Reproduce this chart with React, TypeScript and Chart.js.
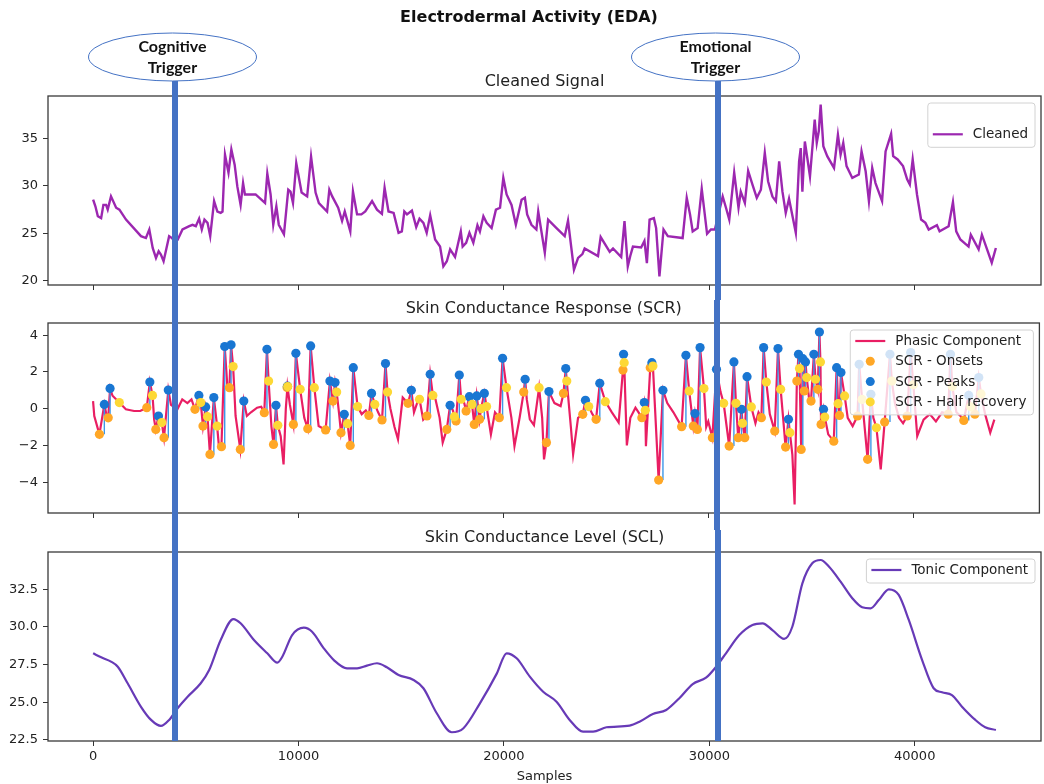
import { useEffect, useRef } from "react";
import { Chart, registerables } from "chart.js";

Chart.register(...registerables);

const FONT = '"DejaVu Sans", sans-serif';
const NOTE_FONT = 'Lato, "Open Sans", sans-serif';

// ---------- axes / text ----------
const xTicks = [0, 10000, 20000, 30000, 40000];
const xRange = [-2197, 46147];
const cleanedTicks = [20, 25, 30, 35];
const cleanedRange = [19.54, 39.5];
const scrTicks = [-4, -2, 0, 2, 4];
const scrRange = [-5.68, 4.66];
const sclTicks = [22.5, 25, 27.5, 30, 32.5];
const sclRange = [22.43, 34.97];

const suptitle = "Electrodermal Activity (EDA)";
const panelTitles = ["Cleaned Signal", "Skin Conductance Response (SCR)", "Skin Conductance Level (SCL)"];
const xLabel = "Samples";
const triggerX = [3980, 30440];
const triggerText = [["Cognitive", "Trigger"], ["Emotional", "Trigger"]];

// ---------- data ----------
const cleaned: number[][] = [
  [0, 28.56], [110, 27.85], [230, 26.8], [390, 26.6], [500, 28.0], [630, 28.0], [710, 27.5], [870, 28.9],
  [1120, 27.7], [1280, 27.5], [1600, 26.45], [2330, 24.7], [2570, 24.5], [2735, 25.4], [2900, 23.45],
  [3060, 22.4], [3190, 23.1], [3300, 22.75], [3430, 22.05], [3700, 24.7], [3840, 24.5], [3980, 24.1],
  [4110, 24.3], [4350, 25.4], [4680, 25.75], [4840, 25.9], [5000, 25.75], [5160, 26.55], [5290, 25.4],
  [5420, 26.45], [5570, 26.1], [5700, 24.7], [5890, 28.4], [6050, 27.3], [6210, 27.15], [6300, 27.3],
  [6420, 33.3], [6590, 31.4], [6730, 33.85], [6890, 32.25], [7020, 29.95], [7180, 28.0], [7300, 30.3],
  [7390, 29.1], [7910, 29.1], [8370, 28.2], [8480, 31.3], [8640, 29.1], [8770, 25.9], [8920, 27.85],
  [9040, 25.9], [9290, 24.9], [9500, 29.6], [9610, 29.4], [9730, 28.2], [9890, 32.4], [10150, 29.3],
  [10420, 28.9], [10610, 33.1], [10830, 29.3], [10990, 28.2], [11390, 27.3], [11500, 29.6], [11640, 28.9],
  [11930, 27.7], [12120, 26.3], [12250, 27.3], [12520, 25.2], [12650, 29.4], [12850, 27.0], [13060, 27.0],
  [13250, 27.3], [13580, 28.4], [13820, 27.5], [14060, 27.05], [14190, 29.8], [14380, 27.3], [14630, 27.15],
  [14870, 25.05], [15030, 25.2], [15150, 27.3], [15280, 27.0], [15520, 27.4], [15730, 25.65], [15890, 26.55],
  [16080, 26.1], [16240, 25.05], [16410, 26.9], [16650, 24.35], [16890, 23.6], [17050, 21.5], [17220, 22.05],
  [17380, 23.3], [17620, 22.5], [17900, 25.2], [17990, 23.6], [18160, 24.0], [18320, 25.05], [18510, 24.0],
  [18710, 25.85], [18830, 25.2], [19000, 26.8], [19160, 26.1], [19400, 25.55], [19610, 27.5], [19810, 27.7],
  [19970, 30.85], [20130, 29.1], [20370, 28.0], [20580, 25.9], [20860, 28.55], [21020, 28.75], [21130, 27.0],
  [21340, 25.9], [21580, 25.4], [21670, 27.3], [21990, 22.95], [22150, 26.45], [22560, 25.55], [22960, 24.7],
  [23120, 26.35], [23410, 21.15], [23610, 22.4], [23820, 22.8], [23930, 23.4], [24580, 22.6], [24710, 24.6],
  [25150, 23.05], [25310, 23.4], [25710, 22.5], [25870, 26.3], [26030, 21.5], [26150, 22.6], [26280, 23.6],
  [26680, 23.5], [26840, 24.2], [26960, 21.85], [27090, 26.45], [27300, 26.6], [27410, 25.55], [27570, 20.45],
  [27770, 25.4], [27980, 24.7], [28700, 24.5], [28900, 28.75], [29060, 27.0], [29190, 25.2], [29430, 25.55],
  [29630, 29.7], [29890, 24.95], [30080, 25.4], [30270, 25.4], [30650, 28.9], [30810, 27.7], [30970, 26.45],
  [31210, 31.4], [31420, 27.7], [31530, 29.4], [31730, 28.2], [31890, 31.6], [32100, 30.15], [32310, 28.75],
  [32510, 29.6], [32700, 33.5], [32860, 30.5], [33070, 28.9], [33240, 28.4], [33400, 32.6], [33560, 29.4],
  [33720, 27.15], [33880, 28.65], [34210, 25.05], [34370, 32.6], [34450, 34.0], [34530, 29.4], [34650, 34.7],
  [34770, 32.95], [34900, 31.0], [35130, 37.0], [35230, 34.55], [35330, 35.8], [35420, 38.6], [35550, 34.2],
  [35740, 33.15], [36070, 31.9], [36260, 35.4], [36390, 33.3], [36520, 34.55], [36680, 32.1], [36960, 30.85],
  [37280, 31.2], [37410, 33.65], [37610, 31.55], [37770, 28.4], [37930, 31.9], [38090, 30.3], [38410, 28.4],
  [38580, 33.65], [38850, 35.5], [38950, 33.15], [39170, 32.8], [39430, 32.1], [39630, 30.7], [39760, 30.15],
  [39900, 32.8], [40110, 29.1], [40310, 26.45], [40520, 26.1], [40680, 25.4], [41080, 25.85], [41210, 25.2],
  [41650, 25.75], [41860, 28.3], [42020, 25.2], [42220, 24.35], [42620, 23.6], [42730, 24.85], [43110, 23.3],
  [43270, 24.85], [43750, 21.9], [43950, 23.45],
];

const phasic: number[][] = [
  [0, 0.41], [60, -0.4], [310, -1.4], [550, 0.23], [650, -0.3], [740, -0.5], [830, 1.1], [950, 0.7],
  [1280, 0.33], [1600, -0.04], [2000, -0.13], [2300, -0.13], [2620, 0.05], [2770, 1.45], [2900, 0.72],
  [2980, -0.6], [3060, -1.13], [3190, -0.4], [3350, -0.76], [3460, -1.58], [3670, 1.01], [3800, 0.2],
  [4110, -0.04], [4350, 0.5], [4600, 0.3], [4800, 0.5], [4970, -0.04], [5160, 0.72], [5250, 0.33],
  [5360, -0.95], [5490, 0.09], [5580, -0.44], [5700, -2.49], [5890, 0.6], [6050, -0.95], [6130, -1.95],
  [6260, -2.07], [6420, 3.38], [6550, 1.2], [6650, 1.14], [6730, 3.47], [6830, 2.29], [6950, -0.4],
  [7180, -2.22], [7350, 0.41], [7500, -0.4], [7700, -0.2], [8000, 0.05], [8200, 0.1], [8350, -0.22],
  [8480, 3.23], [8560, 1.5], [8700, -1.0], [8800, -1.95], [8920, 0.18], [9010, -0.91], [9150, -1.5],
  [9290, -3.04], [9400, 0.0], [9480, 1.2], [9600, 0.2], [9770, -0.86], [9890, 3.01], [10100, 1.05],
  [10300, -0.5], [10470, -1.09], [10610, 3.41], [10790, 1.14], [11000, -0.95], [11340, -1.16], [11550, 1.5],
  [11700, 0.41], [11800, 1.42], [11880, 0.9], [12000, -0.3], [12090, -1.31], [12250, -0.31], [12410, -0.82],
  [12540, -2.0], [12690, 2.23], [12900, 0.11], [13100, -0.3], [13300, -0.1], [13450, -0.37], [13580, 0.83],
  [13740, 0.23], [13900, -0.2], [14090, -0.62], [14260, 2.45], [14360, 0.9], [14500, 0.0], [14700, -1.0],
  [14870, -1.67], [15100, 0.6], [15360, 0.29], [15520, 1.0], [15650, -0.2], [15800, 0.3], [15920, 0.51],
  [16100, -0.6], [16280, -0.4], [16440, 1.87], [16570, 0.72], [16700, 0.5], [16900, -0.5], [17050, -1.85],
  [17250, -1.13], [17410, 0.18], [17550, -0.1], [17620, -0.44], [17700, -0.67], [17860, 1.83], [17950, 0.51],
  [18100, 0.3], [18190, -0.13], [18350, 0.65], [18480, 0.23], [18590, -0.86], [18710, 0.69], [18850, -0.58],
  [18920, 0.0], [19080, 0.83], [19190, 0.11], [19400, -1.4], [19600, -0.2], [19810, -0.49], [19970, 2.74],
  [20160, 1.14], [20400, -0.5], [20550, -2.04], [20800, -0.5], [21000, 0.9], [21070, 1.6], [21150, 0.5],
  [21300, -0.58], [21500, -0.9], [21750, 1.14], [21900, -0.5], [21990, -2.76], [22110, -1.85], [22230, 0.93],
  [22500, 0.3], [22800, 0.14], [22940, 0.83], [23050, 2.18], [23100, 1.5], [23300, -1.0], [23410, -2.49],
  [23650, -0.5], [23880, -0.31], [24010, 0.45], [24170, 0.11], [24350, -0.3], [24530, -0.58], [24710, 1.38],
  [24980, 0.38], [25300, -0.2], [25630, -0.76], [25840, 2.1], [25870, 2.96], [25900, 2.5], [26030, -2.0],
  [26200, -0.5], [26450, 0.05], [26600, -0.2], [26760, -0.49], [26880, 0.33], [26930, -0.09], [26960, -2.04],
  [27170, 2.23], [27250, 2.5], [27300, 2.32], [27580, -3.89], [27790, 1.0], [28000, 0.3], [28300, -0.2],
  [28700, -0.98], [28910, 2.9], [29070, 0.96], [29270, -0.95], [29350, -0.27], [29470, -1.13], [29600, 3.32],
  [29790, 1.09], [29900, -1.0], [30000, -0.7], [30200, -1.58], [30400, 2.14], [30600, 0.9], [30750, 0.29],
  [30900, -1.0], [31020, -2.04], [31250, 2.54], [31350, 0.29], [31460, -1.58], [31620, -0.04], [31670, -0.8],
  [31780, -1.58], [31890, 1.74], [32100, 0.09], [32300, -0.8], [32450, -0.2], [32590, -0.49], [32700, 3.32],
  [32830, 1.45], [33000, -0.3], [33240, -1.22], [33400, 3.27], [33530, 1.05], [33650, -0.5], [33770, -2.09],
  [33910, -0.58], [33980, -1.31], [34100, -2.5], [34210, -5.22], [34320, 1.5], [34400, 2.96], [34450, 2.18],
  [34530, -2.22], [34610, 2.72], [34680, 0.96], [34740, 2.54], [34800, 1.69], [34930, 0.41], [35010, 0.41],
  [35150, 2.96], [35230, 1.6], [35340, 1.05], [35420, 4.17], [35470, 2.54], [35500, -0.86], [35620, -0.04],
  [35680, -0.46], [35850, -1.4], [36120, -1.77], [36260, 2.23], [36330, 0.27], [36400, -0.37], [36470, 1.96],
  [36650, 0.69], [36800, -0.5], [37040, -0.95], [37280, -0.4], [37360, 2.41], [37500, 0.5], [37770, -2.76],
  [37930, 0.78], [38050, -0.5], [38200, -1.04], [38410, -3.31], [38600, -0.73], [38860, 2.96], [38950, 1.5],
  [39100, 0.3], [39300, -0.5], [39500, -0.8], [39700, -0.4], [39870, 3.05], [40000, 1.3], [40190, -1.49],
  [40500, -0.6], [40800, -0.3], [41100, -0.7], [41400, -0.2], [41700, -0.3], [41810, 2.96], [41900, 1.2],
  [42100, -0.2], [42300, -0.4], [42460, -0.64], [42700, 0.72], [42800, 0.1], [43000, -0.3], [43190, 1.69],
  [43300, 0.8], [43500, -0.3], [43750, -1.31], [43950, -0.6],
];

const scrOnsets: number[][] = [
  [310, -1.4], [740, -0.5], [2620, 0.05], [3060, -1.13], [3460, -1.58], [4970, -0.04], [5360, -0.95],
  [5700, -2.49], [6260, -2.07], [6650, 1.14], [7180, -2.22], [8350, -0.22], [8800, -1.95], [9460, 1.15],
  [9770, -0.86], [10470, -1.09], [11340, -1.16], [11700, 0.41], [12090, -1.31], [12540, -2.0], [13450, -0.37],
  [14090, -0.62], [15360, 0.29], [16280, -0.4], [17250, -1.13], [17700, -0.67], [18190, -0.13], [18590, -0.86],
  [18850, -0.58], [19810, -0.49], [21000, 0.9], [22110, -1.85], [22940, 0.83], [23880, -0.31], [24530, -0.58],
  [25840, 2.1], [26760, -0.49], [27170, 2.23], [27580, -3.89], [28700, -0.98], [29270, -0.95], [29470, -1.13],
  [30200, -1.58], [31020, -2.04], [31460, -1.58], [31780, -1.58], [32590, -0.49], [33240, -1.22], [33770, -2.09],
  [34320, 1.5], [34530, -2.22], [34680, 0.96], [35010, 0.41], [35340, 1.05], [35500, -0.86], [36120, -1.77],
  [36400, -0.37], [37280, -0.4], [37770, -2.76], [38600, -0.73], [39700, -0.4], [41700, -0.3], [42460, -0.64],
  [43000, -0.3],
];

const scrPeaks: number[][] = [
  [550, 0.23], [830, 1.1], [2770, 1.45], [3190, -0.4], [3670, 1.01], [5160, 0.72], [5490, 0.09],
  [5890, 0.6], [6420, 3.38], [6730, 3.47], [7350, 0.41], [8480, 3.23], [8920, 0.18], [9480, 1.22],
  [9890, 3.01], [10610, 3.41], [11550, 1.5], [11800, 1.42], [12250, -0.31], [12690, 2.23], [13580, 0.83],
  [14260, 2.45], [15520, 1.0], [16440, 1.87], [17410, 0.18], [17860, 1.83], [18350, 0.65], [18710, 0.69],
  [19080, 0.83], [19970, 2.74], [21070, 1.6], [22230, 0.93], [23050, 2.18], [24010, 0.45], [24710, 1.38],
  [25870, 2.96], [26880, 0.33], [27250, 2.5], [27790, 1.0], [28910, 2.9], [29350, -0.27], [29600, 3.32],
  [30400, 2.14], [31250, 2.54], [31620, -0.04], [31890, 1.74], [32700, 3.32], [33400, 3.27], [33910, -0.58],
  [34400, 2.96], [34610, 2.72], [34740, 2.54], [35150, 2.96], [35420, 4.17], [35620, -0.04], [36260, 2.23],
  [36470, 1.96], [37360, 2.41], [37930, 0.78], [38860, 2.96], [39870, 3.05], [41810, 2.96], [42700, 0.72],
  [43190, 1.69],
];

const scrHalfRecovery: number[][] = [
  [1280, 0.33], [2900, 0.72], [3350, -0.76], [5250, 0.33], [5580, -0.44], [6050, -0.95], [6830, 2.29],
  [8560, 1.5], [9010, -0.91], [9490, 1.2], [10100, 1.05], [10790, 1.14], [11880, 0.9], [12410, -0.82],
  [12900, 0.11], [13740, 0.23], [14360, 0.9], [15920, 0.51], [16570, 0.72], [17620, -0.44], [17950, 0.51],
  [18480, 0.23], [18920, 0.0], [19190, 0.11], [20160, 1.14], [21750, 1.14], [23100, 1.5], [24170, 0.11],
  [24980, 0.38], [25900, 2.5], [26930, -0.09], [27300, 2.32], [29070, 0.96], [29790, 1.09], [30750, 0.29],
  [31350, 0.29], [31670, -0.8], [32100, 0.09], [32830, 1.45], [33530, 1.05], [33980, -1.31], [34450, 2.18],
  [34800, 1.69], [35230, 1.6], [35470, 2.54], [35680, -0.46], [36330, 0.27], [36650, 0.69], [37500, 0.5],
  [38200, -1.04], [38950, 1.5], [40000, 1.3], [41900, 1.2], [42800, 0.1], [43300, 0.8],
];

const tonic: number[][] = [
  [0, 28.25], [390, 27.98], [870, 27.7], [1200, 27.36], [1680, 26.26], [2330, 24.7], [2820, 23.83],
  [3300, 23.43], [3700, 23.83], [4110, 24.6], [4600, 25.37], [5240, 26.26], [5650, 27.14], [6210, 29.13],
  [6830, 30.52], [7180, 30.24], [7830, 29.13], [8480, 28.25], [8970, 27.63], [9210, 28.02], [9690, 29.46],
  [10260, 29.95], [10660, 29.68], [11230, 28.58], [11720, 27.8], [12360, 27.25], [12850, 27.25], [13330, 27.43],
  [13820, 27.59], [14300, 27.32], [14870, 26.81], [15600, 26.48], [16080, 25.93], [16730, 24.27], [17460, 23.01],
  [18030, 23.28], [18830, 24.93], [19650, 26.9], [20130, 28.25], [20620, 27.92], [21260, 26.7], [21910, 25.7],
  [22560, 25.04], [23200, 23.83], [23850, 23.05], [24340, 23.05], [24990, 23.34], [26120, 23.45], [26600, 23.71],
  [27250, 24.22], [27900, 24.49], [28540, 25.27], [29190, 26.21], [29840, 26.63], [30330, 27.36], [30810, 28.25],
  [31460, 29.46], [32100, 30.13], [32590, 30.24], [33070, 29.79], [33640, 29.2], [34040, 30.01], [34530, 32.89],
  [35010, 34.22], [35420, 34.44], [35830, 33.99], [36390, 33.0], [36960, 31.9], [37440, 31.3], [37850, 31.23],
  [38250, 31.78], [38740, 32.49], [39220, 32.12], [39710, 30.46], [40360, 27.8], [40920, 25.93], [41330, 25.66],
  [41810, 25.48], [42300, 24.71], [42950, 23.83], [43430, 23.34], [43950, 23.16],
];

// ---------- helpers ----------
const pts = (arr: number[][]) => arr.map(([x, y]) => ({ x, y }));
type Entry = { label: string; kind: "line" | "dot"; color: string } | null;

const framePlugin = {
  id: "frame",
  afterDatasetsDraw(chart: any) {
    const { ctx, chartArea: a } = chart;
    ctx.save();
    ctx.strokeStyle = "#3a3a3a";
    ctx.lineWidth = 1.3;
    ctx.strokeRect(a.left, a.top, a.right - a.left, a.bottom - a.top);
    ctx.restore();
  },
};

function legendPlugin(entries: Entry[]) {
  return {
    id: "mplLegend",
    afterDatasetsDraw(chart: any) {
      const { ctx, chartArea: a } = chart;
      ctx.save();
      ctx.font = `13.5px ${FONT}`;
      const tw = Math.max(...entries.map((e) => (e ? ctx.measureText(e.label).width : 0)));
      const rowH = 20.3;
      const w = 5 + 30 + 10 + tw + 7;
      const h = 11 + rowH * (entries.length - 1) + 13;
      const right = a.right - 6;
      const left = right - w;
      const top = a.top + 7;
      ctx.beginPath();
      ctx.roundRect(left, top, w, h, 3);
      ctx.fillStyle = "rgba(255,255,255,0.8)";
      ctx.fill();
      ctx.strokeStyle = "#d2d2d2";
      ctx.lineWidth = 1;
      ctx.stroke();
      entries.forEach((e, i) => {
        if (!e) return;
        const cy = top + 11 + i * rowH;
        const lx = left + 5;
        if (e.kind === "line") {
          ctx.strokeStyle = e.color;
          ctx.lineWidth = 2.2;
          ctx.beginPath();
          ctx.moveTo(lx, cy);
          ctx.lineTo(lx + 30, cy);
          ctx.stroke();
        } else {
          ctx.fillStyle = e.color;
          ctx.beginPath();
          ctx.arc(lx + 15, cy, 4.5, 0, Math.PI * 2);
          ctx.fill();
        }
        ctx.fillStyle = "#222";
        ctx.textAlign = "left";
        ctx.textBaseline = "middle";
        ctx.fillText(e.label, lx + 40, cy + 0.5);
      });
      ctx.restore();
    },
  };
}

function titlePlugin(text: string) {
  return {
    id: "panelTitle",
    afterDraw(chart: any) {
      const { ctx, chartArea: a } = chart;
      ctx.save();
      ctx.font = `16px ${FONT}`;
      ctx.fillStyle = "#222";
      ctx.textAlign = "center";
      ctx.textBaseline = "middle";
      ctx.fillText(text, (a.left + a.right) / 2, a.top - 14);
      ctx.restore();
    },
  };
}

function barPlugin(from: (c: any) => number, to: (c: any) => number) {
  return {
    id: "triggerBars",
    afterDraw(chart: any) {
      const { ctx } = chart;
      const xs = chart.scales.x;
      ctx.save();
      ctx.fillStyle = "#4472C4";
      triggerX.forEach((v) => {
        const px = Math.round(xs.getPixelForValue(v));
        ctx.fillRect(px - 3, from(chart), 6, to(chart) - from(chart));
      });
      ctx.restore();
    },
  };
}

const headerPlugin = {
  id: "header",
  afterDraw(chart: any) {
    const { ctx } = chart;
    const xs = chart.scales.x;
    ctx.save();
    ctx.font = `bold 16px ${FONT}`;
    ctx.fillStyle = "#111";
    ctx.textAlign = "center";
    ctx.textBaseline = "middle";
    ctx.fillText(suptitle, 529, 18);
    triggerX.forEach((v, i) => {
      const cx = Math.round(xs.getPixelForValue(v)) - 2.5;
      ctx.beginPath();
      ctx.ellipse(cx, 57, 84, 24, 0, 0, Math.PI * 2);
      ctx.fillStyle = "#fff";
      ctx.fill();
      ctx.strokeStyle = "#4472C4";
      ctx.lineWidth = 1;
      ctx.stroke();
      ctx.fillStyle = "#111";
      ctx.font = `bold 16px ${NOTE_FONT}`;
      ctx.fillText(triggerText[i][0], cx, 47);
      ctx.fillText(triggerText[i][1], cx, 68);
    });
    ctx.restore();
  },
};

function makeConfig(p: {
  datasets: any[];
  range: number[];
  yTicks: number[];
  fmt: (v: number) => string;
  padTop: number;
  xHeight: number;
  showX: boolean;
  title: string;
  legend: Entry[];
  barFrom: (c: any) => number;
  barTo: (c: any) => number;
  extra?: any[];
}): any {
  const tickFont = { family: FONT, size: 13 };
  const grid = { drawOnChartArea: false, drawTicks: true, tickLength: 5, color: "#333", lineWidth: 1 };
  return {
    type: "line",
    data: { datasets: p.datasets },
    options: {
      animation: false,
      responsive: false,
      devicePixelRatio: 1,
      events: [],
      layout: { padding: { top: p.padTop, right: 3, left: 0, bottom: 0 } },
      plugins: { legend: { display: false }, tooltip: { enabled: false }, title: { display: false } },
      scales: {
        x: {
          type: "linear",
          min: xRange[0],
          max: xRange[1],
          bounds: "data",
          afterBuildTicks: (s: any) => {
            s.ticks = xTicks.map((v) => ({ value: v }));
          },
          afterFit: (s: any) => {
            s.height = p.xHeight;
          },
          grid,
          border: { display: false },
          ticks: {
            display: p.showX,
            font: tickFont,
            color: "#222",
            padding: 3,
            maxRotation: 0,
            autoSkip: false,
            callback: (v: number) => String(v),
          },
          title: { display: p.showX, text: xLabel, font: tickFont, color: "#222", padding: 0 },
        },
        y: {
          type: "linear",
          min: p.range[0],
          max: p.range[1],
          bounds: "data",
          afterBuildTicks: (s: any) => {
            s.ticks = p.yTicks.map((v) => ({ value: v }));
          },
          afterFit: (s: any) => {
            s.width = 48;
          },
          grid,
          border: { display: false },
          ticks: { font: tickFont, color: "#222", padding: 5, autoSkip: false, callback: (v: number) => p.fmt(v) },
        },
      },
    },
    plugins: [framePlugin, legendPlugin(p.legend), titlePlugin(p.title), barPlugin(p.barFrom, p.barTo), ...(p.extra || [])],
  };
}

const dotSet = (label: string, arr: number[][], color: string, order: number) => ({
  label,
  data: pts(arr),
  showLine: false,
  pointRadius: 4.6,
  pointBorderWidth: 0,
  pointBackgroundColor: color,
  pointBorderColor: color,
  order,
});

export default function App() {
  const topRef = useRef<HTMLCanvasElement>(null);
  const midRef = useRef<HTMLCanvasElement>(null);
  const botRef = useRef<HTMLCanvasElement>(null);

  useEffect(() => {
    document.body.style.margin = "0";
    const segments: any[] = [];
    scrPeaks.forEach(([px, py], i) => {
      segments.push({ x: px, y: scrOnsets[i][1] }, { x: px, y: py }, { x: px, y: null });
    });

    const top = new Chart(
      topRef.current!,
      makeConfig({
        datasets: [
          { label: "Cleaned", data: pts(cleaned), borderColor: "#9C27B0", borderWidth: 2.4, pointRadius: 0, tension: 0 },
        ],
        range: cleanedRange,
        yTicks: cleanedTicks,
        fmt: (v) => String(v),
        padTop: 96,
        xHeight: 15,
        showX: false,
        title: panelTitles[0],
        legend: [null, { label: "Cleaned", kind: "line", color: "#9C27B0" }],
        barFrom: () => 81,
        barTo: (c) => c.height,
        extra: [headerPlugin],
      })
    );

    const mid = new Chart(
      midRef.current!,
      makeConfig({
        datasets: [
          { label: "Phasic Component", data: pts(phasic), borderColor: "#E91E63", borderWidth: 2.2, pointRadius: 0, tension: 0, order: 5 },
          { label: "amplitude", data: segments, borderColor: "#3d97e8", borderWidth: 1.4, pointRadius: 0, spanGaps: false, order: 4 },
          dotSet("SCR - Onsets", scrOnsets, "#FFA726", 3),
          dotSet("SCR - Peaks", scrPeaks, "#1976D2", 2),
          dotSet("SCR - Half recovery", scrHalfRecovery, "#FDD835", 1),
        ],
        range: scrRange,
        yTicks: scrTicks,
        fmt: (v) => (v < 0 ? "\u2212" + Math.abs(v) : String(v)),
        padTop: 23,
        xHeight: 17,
        showX: false,
        title: panelTitles[1],
        legend: [
          { label: "Phasic Component", kind: "line", color: "#E91E63" },
          { label: "SCR - Onsets", kind: "dot", color: "#FFA726" },
          { label: "SCR - Peaks", kind: "dot", color: "#1976D2" },
          { label: "SCR - Half recovery", kind: "dot", color: "#FDD835" },
        ],
        barFrom: () => 0,
        barTo: (c) => c.height,
      })
    );

    const bot = new Chart(
      botRef.current!,
      makeConfig({
        datasets: [
          {
            label: "Tonic Component",
            data: pts(tonic),
            borderColor: "#673AB7",
            borderWidth: 2.2,
            pointRadius: 0,
            cubicInterpolationMode: "monotone",
          },
        ],
        range: sclRange,
        yTicks: sclTicks,
        fmt: (v) => v.toFixed(1),
        padTop: 22,
        xHeight: 43,
        showX: true,
        title: panelTitles[2],
        legend: [{ label: "Tonic Component", kind: "line", color: "#673AB7" }],
        barFrom: () => 0,
        barTo: (c) => c.chartArea.bottom,
      })
    );

    return () => {
      top.destroy();
      mid.destroy();
      bot.destroy();
    };
  }, []);

  const cs = (t: number): any => ({ position: "absolute", left: 0, top: t, display: "block" });
  return (
    <div style={{ position: "relative", width: 1044, height: 784, background: "#fff", overflow: "hidden" }}>
      <canvas ref={topRef} width={1044} height={300} style={cs(0)} />
      <canvas ref={midRef} width={1044} height={230} style={cs(300)} />
      <canvas ref={botRef} width={1044} height={254} style={cs(530)} />
    </div>
  );
}
